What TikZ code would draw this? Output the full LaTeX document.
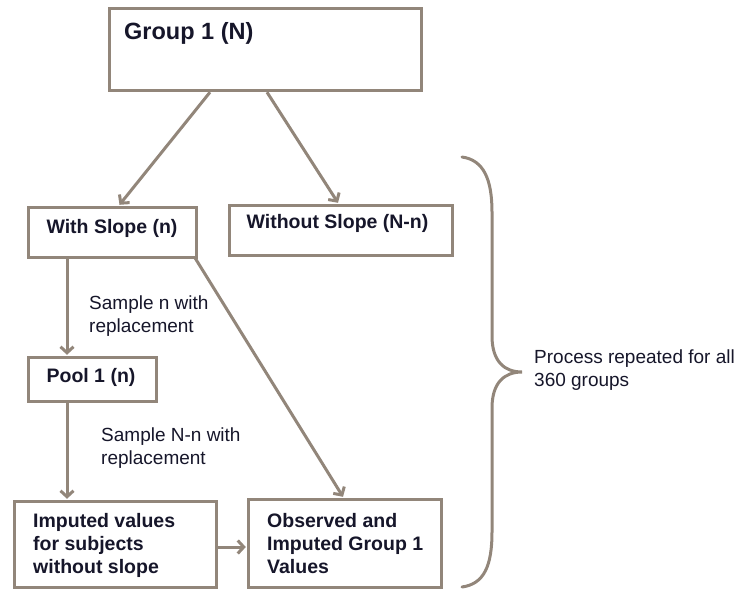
\documentclass[tikz,border=0pt]{standalone}
\usepackage{fontspec}
\setmainfont{Liberation Sans}
\usetikzlibrary{arrows.meta}
\definecolor{linegray}{RGB}{146,134,122}
\definecolor{inkdark}{RGB}{22,22,42}
\tikzset{
  box/.style={draw=linegray, line width=3.4pt, rectangle, inner sep=0pt, fill=white},
  boxlabel/.style={text=inkdark, font=\bfseries\fontsize{19.5}{23}\selectfont, align=left, inner sep=0pt},
  note/.style={text=inkdark, font=\fontsize{19}{23}\selectfont, align=left, inner sep=0pt, anchor=west},
  flow/.style={draw=linegray, line width=3pt, -{Straight Barb[length=6pt,width=13pt,line width=3pt]}},
}
\begin{document}
\begin{tikzpicture}[x=1pt,y=-1pt]
\useasboundingbox (0,0) rectangle (745,592);

% boxes
\node[box, minimum width=312pt, minimum height=82pt] (g1) at (265.5,49.5) {};
\node[boxlabel, font=\bfseries\fontsize{23.5}{27}\selectfont, anchor=west] (g1t) at (124,33) {Group 1 (N)};

\node[box, minimum width=168pt, minimum height=50pt] (ws) at (112.5,232.5) {};
\node[boxlabel] (wst) at (112,228) {With Slope (n)};

\node[box, minimum width=223pt, minimum height=50pt] (wos) at (341,230.5) {};
\node[boxlabel] (wost) at (337.5,223) {Without Slope (N-n)};

\node[box, minimum width=128pt, minimum height=44pt] (pool) at (92.5,379.5) {};
\node[boxlabel] (poolt) at (91,377) {Pool 1 (n)};

\node[box, minimum width=202pt, minimum height=86pt] (imp) at (115.5,544.5) {};
\node[boxlabel, anchor=west] (impt) at (33,545) {Imputed values\\for subjects\\without slope};

\node[box, minimum width=193pt, minimum height=88pt] (obs) at (345,543.5) {};
\node[boxlabel, anchor=west] (obst) at (267,543.5) {Observed and\\Imputed Group 1\\Values};

% connectors
\draw[flow] ([xshift=-55.5pt]g1.south) -- ([xshift=7pt,yshift=1pt]ws.north);
\draw[flow] ([xshift=1.5pt]g1.south) -- ([xshift=-3pt,yshift=1pt]wos.north);
\draw[flow] ([xshift=-45.5pt]ws.south) -- ([xshift=-25.5pt,yshift=1pt]pool.north);
\draw[flow] ([xshift=-25.5pt]pool.south) -- ([xshift=-48.5pt,yshift=1pt]imp.north);
\draw[flow] ([xshift=-3pt,yshift=1pt]ws.south east) -- ([xshift=-2pt,yshift=1pt]obs.north);
\draw[flow] ([yshift=-2.5pt]imp.east) -- ([xshift=-1pt,yshift=-3.5pt]obs.west);

% edge notes
\node[note] (s1) at (89,316.5) {Sample n with\\replacement};
\node[note] (s2) at (101,448.5) {Sample N-n with\\replacement};

% curly brace around the repeated process
\draw[linegray, line width=3pt, line cap=round]
  (462,157) .. controls (484,160) and (492,180) .. (492,212)
  -- (492,336) .. controls (492,362) and (505,372) .. (522,372)
  .. controls (505,372) and (492,382) .. (492,408)
  -- (492,532) .. controls (492,566) and (484,584) .. (462,587);
\node[note] (proc) at (534,370) {Process repeated for all\\360 groups};
\end{tikzpicture}
\end{document}
